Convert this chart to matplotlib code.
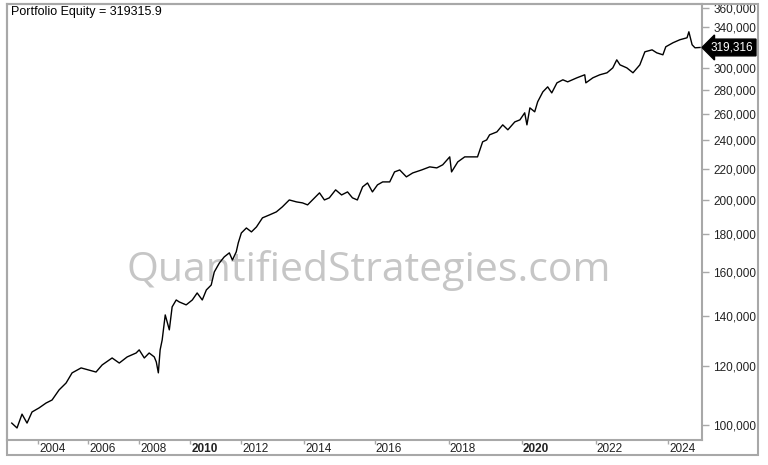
import numpy as np
import matplotlib
matplotlib.use("Agg")
import matplotlib.pyplot as plt
from matplotlib.patches import Rectangle
from matplotlib.ticker import FuncFormatter, NullLocator
import matplotlib.transforms as mtransforms

plt.rcParams["font.family"] = ["Liberation Sans", "DejaVu Sans"]

# equity curve (decimal year, equity)
years = [2002.95, 2003.16, 2003.36, 2003.56, 2003.76, 2004.04, 2004.32, 2004.56, 2004.84, 2005.12,
         2005.36, 2005.72, 2006.04, 2006.31, 2006.55, 2006.94, 2007.22, 2007.53, 2007.88, 2008.00,
         2008.20, 2008.39, 2008.59, 2008.67, 2008.75, 2008.82, 2008.90, 2009.02, 2009.18, 2009.29,
         2009.45, 2009.57, 2009.84, 2010.08, 2010.27, 2010.47, 2010.63, 2010.82, 2010.94, 2011.14,
         2011.33, 2011.53, 2011.65, 2011.80, 2011.88, 2012.00, 2012.16, 2012.32, 2012.48, 2012.67,
         2012.89, 2013.11, 2013.30, 2013.52, 2013.75, 2013.94, 2014.09, 2014.23, 2014.43, 2014.57,
         2014.71, 2014.89, 2015.06, 2015.23, 2015.37, 2015.51, 2015.66, 2015.80, 2015.94, 2016.08,
         2016.22, 2016.41, 2016.54, 2016.68, 2016.86, 2017.03, 2017.27, 2017.49, 2017.68, 2017.84,
         2018.03, 2018.08, 2018.25, 2018.44, 2018.58, 2018.79, 2018.93, 2019.04, 2019.12, 2019.32,
         2019.48, 2019.62, 2019.81, 2019.95, 2020.08, 2020.14, 2020.22, 2020.35, 2020.43, 2020.57,
         2020.70, 2020.81, 2020.95, 2021.11, 2021.24, 2021.49, 2021.70, 2021.73, 2021.92, 2022.11,
         2022.31, 2022.47, 2022.58, 2022.67, 2022.86, 2023.03, 2023.22, 2023.36, 2023.56, 2023.69,
         2023.86, 2023.94, 2024.14, 2024.33, 2024.53, 2024.58, 2024.67, 2024.75, 2024.89]
equity = [100600, 99100, 103400, 100600, 104100, 105400, 107000, 108000, 111400, 113800,
          117400, 119200, 118400, 117700, 120300, 122900, 121000, 123300, 124800, 126000,
          122900, 124800, 123300, 121400, 117400, 126000, 129900, 140300, 134000, 143800,
          146900, 146000, 144700, 146900, 150100, 146900, 151500, 153800, 160100, 164600,
          167700, 169800, 166100, 170300, 175100, 180500, 183300, 181100, 183900, 189100,
          190800, 192600, 195600, 199800, 198600, 198000, 196800, 199800, 204200, 199800,
          201100, 206100, 202900, 204800, 201100, 199800, 208000, 210500, 204800, 209300,
          211200, 211200, 217800, 219100, 214500, 217100, 219100, 221200, 220500, 222600,
          228100, 217800, 224600, 228100, 228100, 228100, 238900, 240300, 244100, 246300,
          251700, 247900, 254000, 255600, 261200, 251700, 265200, 262000, 270200, 278600,
          282900, 277700, 286400, 289100, 287300, 290900, 293600, 286400, 290900, 293600,
          295400, 299900, 307400, 302700, 299900, 295400, 302700, 315100, 317000, 314100,
          312200, 320000, 324000, 327000, 329000, 335100, 322000, 319000, 319316]

y_ticks = [100000, 120000, 140000, 160000, 180000, 200000, 220000, 240000,
           260000, 280000, 300000, 340000, 360000]
year_ticks = [2004, 2006, 2008, 2010, 2012, 2014, 2016, 2018, 2020, 2022, 2024]
bold_years = [2010, 2020]

last_value = 319316
title = "Portfolio Equity = 319315.9"

# the chart spaces bars, not calendar time, so the year axis is uneven
anchor_years = [2002, 2004, 2006, 2008, 2010, 2012, 2014, 2016, 2018, 2020, 2022, 2024, 2026]
anchor_pos = [-11, 39, 89, 140, 191, 242, 305, 375, 449, 522, 596, 668, 740]


def fwd(x):
    return np.interp(x, anchor_years, anchor_pos)


def inv(p):
    return np.interp(p, anchor_pos, anchor_years)


W, H = 768, 465
fig = plt.figure(figsize=(W / 100, H / 100), dpi=100)
fig.patch.set_facecolor("white")
ax = fig.add_axes([7 / W, (H - 440) / H, (702 - 7) / W, (440 - 4) / H])

gray = "#a8a8a8"
ax.plot(years, equity, color="black", lw=1.0, zorder=3)

ax.set_xscale("function", functions=(fwd, inv))
ax.set_yscale("log")
ax.set_xlim(inv(8), inv(702))
ax.set_ylim(95500, 365000)

ax.yaxis.tick_right()
ax.set_yticks(y_ticks)
ax.yaxis.set_minor_locator(NullLocator())
ax.yaxis.set_major_formatter(FuncFormatter(lambda v, p: f"{v:,.0f}"))
ax.tick_params(axis="y", which="major", direction="out", length=5, width=1,
               color=gray, pad=3, labelsize=8.5, labelcolor="#222222")

ax.set_xticks(year_ticks)
ax.xaxis.set_minor_locator(NullLocator())
ax.set_xticklabels([str(y) for y in year_ticks])
ax.tick_params(axis="x", which="major", direction="out", length=3, width=1,
               color=gray, pad=-1, labelsize=8.5, labelcolor="#222222")
for lbl, y in zip(ax.get_xticklabels(), year_ticks):
    lbl.set_horizontalalignment("left")
    lbl.set_transform(lbl.get_transform() + mtransforms.ScaledTranslation(1 / 100, 0, fig.dpi_scale_trans))
    if y in bold_years:
        lbl.set_fontweight("bold")

for s in ax.spines.values():
    s.set_color(gray)
    s.set_linewidth(1.5)

# outer frame around the chart and the axis strips
fig.patches.append(Rectangle((7 / W, (H - 455) / H), (758 - 7) / W, (455 - 4) / H,
                             transform=fig.transFigure, fill=False, ec=gray, lw=1.5))

fig.text(11 / W, 1 - 12 / H, title, fontsize=9, ha="left", va="center", color="black")

# watermark sits under the equity line
ax.text(369 / W, 1 - 270 / H, "QuantifiedStrategies.com", fontsize=29.5,
        family="Open Sans", color="#c6c6c6", ha="center", va="center", zorder=1,
        transform=fig.transFigure)

trans = mtransforms.blended_transform_factory(ax.transAxes, ax.transData)
ax.text(1.0 + 9 / (702 - 7), last_value, f"{last_value:,}", transform=trans,
        ha="left", va="center", fontsize=8.5, color="white", clip_on=False, zorder=5,
        bbox=dict(boxstyle="larrow,pad=0.2", fc="black", ec="black"))

fig.savefig("out.png", dpi=100, facecolor="white")
